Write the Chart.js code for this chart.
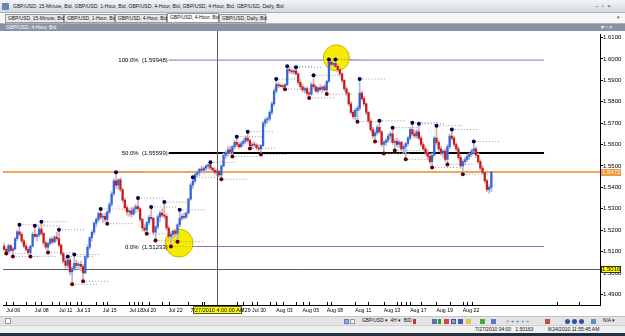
<!DOCTYPE html>
<html><head><meta charset="utf-8">
<script src="https://cdn.jsdelivr.net/npm/chart.js@4/dist/chart.umd.min.js"></script>
<style>
*{box-sizing:border-box}
body{margin:0;width:625px;height:336px;overflow:hidden;background:#fff;font-family:"Liberation Sans",Arial,sans-serif;position:relative}
.a{position:absolute;white-space:nowrap}
#title{left:0;top:0;width:625px;height:13px;background:linear-gradient(#f3f5f8,#d3d8e0);border-bottom:1px solid #aab1bc;font-size:5.1px;line-height:12px;color:#1a1a1a;padding-left:13px}
#tabs{left:0;top:13px;width:625px;height:11px;background:#f6f6f6;border-bottom:1px solid #b0b0b0}
.tab{position:absolute;top:1px;height:9px;border:1px solid #9a9a9a;background:#e9e9e9;font-size:4.9px;line-height:7px;padding-left:2px;white-space:nowrap;color:#111}
.tab.on{background:#fff;top:0;height:10px}
#inner{left:0;top:24px;width:625px;height:7px;background:#8a93a6;color:#fff;font-size:5px;line-height:7px;padding-left:6px}
canvas{position:absolute;left:0;top:31px}
#tool{left:0;top:316px;width:625px;height:9px;background:#e4e4e4;border-top:1px solid #c4c4c4;font-size:4.8px;line-height:8px;color:#111}
#status{left:0;top:325px;width:625px;height:8px;background:#f0f0f0;border-top:1px solid #d0d0d0;font-size:5px;line-height:7px;color:#111}
#task{left:0;top:333px;width:625px;height:3px;background:#26313f}
.ic{position:absolute;top:2px;width:5px;height:5px}
</style></head><body>
<div id="title" class="a"><span class="a" style="left:2px;top:3px;width:7px;height:7px;background:#6a86b8;border-radius:1px"></span>GBP/USD, 15-Minute, Bid, GBP/USD, 1-Hour, Bid, GBP/USD, 4-Hour, Bid, GBP/USD, 4-Hour, Bid, GBP/USD, Daily, Bid<span class="a" style="left:595px;top:0;font-size:6px;color:#555">–&nbsp;&nbsp;▫&nbsp;&nbsp;×</span></div>
<div id="tabs" class="a">
<div class="tab" style="left:5px;width:59px">GBP/USD, 15-Minute, Bid</div>
<div class="tab" style="left:64px;width:51px">GBP/USD, 1-Hour, Bid</div>
<div class="tab" style="left:115px;width:52px">GBP/USD, 4-Hour, Bid</div>
<div class="tab on" style="left:167px;width:52px">GBP/USD, 4-Hour, Bid</div>
<div class="tab" style="left:219px;width:47px">GBP/USD, Daily, Bid</div>
<span class="a" style="left:617px;top:1px;font-size:5px;color:#555">▾</span>
</div>
<div id="inner" class="a">GBP/USD, 4-Hour, Bid<span class="a" style="left:601px;top:0;font-size:5.5px">▾&nbsp;▫&nbsp;×</span></div>
<canvas id="c" width="625" height="285"></canvas>
<div id="tool" class="a">
<span class="a" style="left:5px;top:1px;width:6px;height:6px;border:1px solid #999;background:#fafafa"></span>
<span class="ic" style="left:344px;background:#8fb3e8;border:1px solid #5a7fc0"></span>
<span class="ic" style="left:350px;background:#f4f4f4;border:1px solid #999"></span>
<span class="a" style="left:362px;top:0">GBP/USD ▾&nbsp; 4H ▾&nbsp; BID ▾</span>
<span class="ic" style="left:413px;width:3px;background:#d03030"></span>
<span class="ic" style="left:432px;background:#5574a8"></span>
<span class="ic" style="left:438px;width:3px;background:#2f9a2f"></span>
<span class="ic" style="left:444px;background:#d04848"></span>
<span class="ic" style="left:451px;background:#7f9fd8;border:1px solid #3c5c9c"></span>
<span class="ic" style="left:458px;background:#3d5fa8"></span>
<span class="ic" style="left:466px;background:#e6c24a"></span>
<span class="ic" style="left:480px;background:#4aa84a"></span>
<span class="ic" style="left:491px;background:#5a7ac8"></span>
<span class="a" style="left:506px;top:0;color:#3a5bd0;font-size:6px">⌕ + + ÷ ÷</span>
<span class="ic" style="left:545px;background:#c05050"></span>
<span class="ic" style="left:565px;background:#3050b0;border-radius:50%"></span>
<span class="ic" style="left:572px;background:#3050b0;border-radius:50%"></span>
<span class="ic" style="left:579px;background:#3050b0;border-radius:50%"></span>
<span class="ic" style="left:591px;background:#6090d0"></span>
<span class="a" style="left:603px;top:0">N/A ▾</span>
</div>
<div id="status" class="a"><span class="a" style="left:475px">7/27/2010 04:00&nbsp;&nbsp; 1.50163</span><span class="a" style="left:548px">8/24/2010 11:55:45 AM</span></div>
<div id="task" class="a"></div>
<script>
// ---- data (4-hour candles, bar index 0 = Jul 06) ----
const opens = [
1.5125,1.5110,1.5100,1.5128,1.5105,1.5112,1.5160,1.5192,1.5180,1.5150,
1.5125,1.5110,1.5095,1.5125,1.5180,1.5170,1.5178,1.5205,1.5185,1.5140,
1.5120,1.5138,1.5158,1.5145,1.5168,1.5160,1.5130,1.5090,1.5055,1.5035,
1.5060,1.5005,1.5020,1.5045,1.5035,1.5040,1.5030,1.5000,1.5075,1.5120,
1.5165,1.5190,1.5232,1.5250,1.5278,1.5260,1.5265,1.5250,1.5285,1.5320,
1.5370,1.5430,1.5410,1.5435,1.5390,1.5340,1.5305,1.5285,1.5290,1.5275,
1.5300,1.5310,1.5300,1.5250,1.5210,1.5200,1.5235,1.5260,1.5255,1.5190,
1.5215,1.5262,1.5280,1.5270,1.5265,1.5210,1.5170,1.5180,1.5195,1.5185,
1.5225,1.5255,1.5265,1.5260,1.5280,1.5345,1.5410,1.5430,1.5460,1.5470,
1.5485,1.5480,1.5490,1.5500,1.5505,1.5490,1.5480,1.5470,1.5475,1.5458,
1.5500,1.5550,1.5560,1.5575,1.5565,1.5590,1.5610,1.5600,1.5590,1.5605,
1.5615,1.5630,1.5620,1.5595,1.5600,1.5598,1.5585,1.5580,1.5595,1.5700,
1.5715,1.5720,1.5750,1.5790,1.5850,1.5880,1.5875,1.5872,1.5870,1.5880,
1.5950,1.5945,1.5940,1.5945,1.5930,1.5890,1.5870,1.5855,1.5862,1.5840,
1.5835,1.5880,1.5870,1.5850,1.5865,1.5858,1.5870,1.5855,1.5895,1.5985,
1.5975,1.5980,1.5965,1.5950,1.5930,1.5900,1.5860,1.5840,1.5790,1.5750,
1.5730,1.5760,1.5770,1.5840,1.5815,1.5790,1.5750,1.5710,1.5670,1.5640,
1.5655,1.5680,1.5660,1.5600,1.5610,1.5620,1.5640,1.5650,1.5610,1.5615,
1.5600,1.5610,1.5580,1.5590,1.5605,1.5630,1.5670,1.5650,1.5640,1.5660,
1.5630,1.5600,1.5580,1.5560,1.5545,1.5520,1.5550,1.5630,1.5610,1.5580,
1.5560,1.5570,1.5530,1.5590,1.5640,1.5630,1.5600,1.5580,1.5540,1.5500,
1.5520,1.5530,1.5545,1.5555,1.5570,1.5580,1.5550,1.5520,1.5490,1.5470,
1.5430,1.5390,1.5400];
const highs = [
1.5140,1.5118,1.5135,1.5132,1.5120,1.5165,1.5200,1.5225,1.5190,1.5158,
1.5140,1.5120,1.5130,1.5190,1.5220,1.5185,1.5215,1.5239,1.5190,1.5150,
1.5145,1.5165,1.5170,1.5175,1.5190,1.5202,1.5135,1.5095,1.5070,1.5077,
1.5070,1.5030,1.5086,1.5060,1.5050,1.5055,1.5040,1.5080,1.5130,1.5170,
1.5200,1.5240,1.5260,1.5285,1.5299,1.5275,1.5280,1.5290,1.5330,1.5380,
1.5440,1.5470,1.5440,1.5445,1.5395,1.5350,1.5315,1.5300,1.5305,1.5310,
1.5320,1.5350,1.5305,1.5255,1.5225,1.5240,1.5270,1.5308,1.5260,1.5220,
1.5270,1.5290,1.5300,1.5331,1.5275,1.5220,1.5190,1.5200,1.5205,1.5230,
1.5295,1.5275,1.5280,1.5285,1.5350,1.5420,1.5447,1.5465,1.5480,1.5490,
1.5500,1.5495,1.5505,1.5510,1.5517,1.5495,1.5490,1.5485,1.5480,1.5505,
1.5560,1.5570,1.5590,1.5590,1.5595,1.5620,1.5637,1.5610,1.5615,1.5625,
1.5640,1.5660,1.5625,1.5610,1.5615,1.5605,1.5600,1.5600,1.5710,1.5725,
1.5730,1.5760,1.5800,1.5860,1.5906,1.5890,1.5885,1.5880,1.5885,1.5966,
1.5958,1.5955,1.5950,1.5961,1.5935,1.5900,1.5880,1.5870,1.5870,1.5850,
1.5890,1.5924,1.5878,1.5870,1.5880,1.5875,1.5880,1.5900,1.5998,1.5995,
1.5990,1.5998,1.5975,1.5960,1.5935,1.5905,1.5870,1.5845,1.5800,1.5760,
1.5770,1.5780,1.5906,1.5850,1.5825,1.5795,1.5755,1.5720,1.5680,1.5665,
1.5690,1.5711,1.5665,1.5620,1.5630,1.5650,1.5660,1.5679,1.5625,1.5630,
1.5620,1.5615,1.5600,1.5610,1.5640,1.5680,1.5702,1.5665,1.5670,1.5697,
1.5640,1.5610,1.5590,1.5575,1.5555,1.5560,1.5640,1.5688,1.5620,1.5590,
1.5575,1.5580,1.5600,1.5650,1.5670,1.5640,1.5610,1.5590,1.5550,1.5530,
1.5540,1.5555,1.5560,1.5580,1.5614,1.5590,1.5560,1.5530,1.5500,1.5475,
1.5440,1.5410,1.5475];
const lows = [
1.5105,1.5091,1.5095,1.5098,1.5077,1.5108,1.5150,1.5170,1.5140,1.5118,
1.5100,1.5085,1.5077,1.5120,1.5165,1.5150,1.5170,1.5175,1.5130,1.5110,
1.5095,1.5130,1.5135,1.5140,1.5150,1.5120,1.5080,1.5045,1.5020,1.5025,
1.4990,1.4947,1.5010,1.5025,1.5015,1.5010,1.4961,1.4995,1.5065,1.5110,
1.5150,1.5180,1.5215,1.5240,1.5250,1.5235,1.5240,1.5230,1.5275,1.5310,
1.5360,1.5395,1.5390,1.5380,1.5330,1.5295,1.5270,1.5265,1.5260,1.5270,
1.5280,1.5290,1.5240,1.5195,1.5190,1.5183,1.5225,1.5245,1.5180,1.5151,
1.5205,1.5240,1.5260,1.5255,1.5200,1.5160,1.5123,1.5160,1.5170,1.5146,
1.5215,1.5245,1.5250,1.5255,1.5275,1.5340,1.5395,1.5420,1.5450,1.5455,
1.5470,1.5465,1.5478,1.5485,1.5485,1.5470,1.5462,1.5455,1.5450,1.5438,
1.5495,1.5535,1.5545,1.5555,1.5544,1.5580,1.5590,1.5580,1.5585,1.5595,
1.5605,1.5610,1.5582,1.5580,1.5590,1.5575,1.5570,1.5554,1.5590,1.5685,
1.5700,1.5710,1.5740,1.5780,1.5840,1.5865,1.5868,1.5862,1.5859,1.5875,
1.5935,1.5930,1.5928,1.5925,1.5880,1.5860,1.5845,1.5840,1.5830,1.5818,
1.5830,1.5860,1.5845,1.5840,1.5850,1.5845,1.5848,1.5836,1.5890,1.5965,
1.5965,1.5960,1.5940,1.5920,1.5890,1.5850,1.5830,1.5780,1.5740,1.5720,
1.5715,1.5707,1.5760,1.5805,1.5780,1.5740,1.5700,1.5660,1.5630,1.5614,
1.5645,1.5650,1.5590,1.5558,1.5595,1.5610,1.5625,1.5600,1.5572,1.5590,
1.5585,1.5570,1.5560,1.5531,1.5595,1.5620,1.5640,1.5630,1.5630,1.5620,
1.5590,1.5570,1.5550,1.5530,1.5510,1.5493,1.5545,1.5600,1.5570,1.5550,
1.5540,1.5520,1.5507,1.5580,1.5620,1.5590,1.5570,1.5530,1.5490,1.5461,
1.5505,1.5520,1.5530,1.5545,1.5560,1.5540,1.5510,1.5480,1.5460,1.5420,
1.5380,1.5373,1.5380];
const closes = [
1.5110,1.5100,1.5128,1.5105,1.5112,1.5160,1.5192,1.5180,1.5150,1.5125,
1.5110,1.5095,1.5125,1.5180,1.5170,1.5178,1.5205,1.5185,1.5140,1.5120,
1.5138,1.5158,1.5145,1.5168,1.5160,1.5130,1.5090,1.5055,1.5035,1.5060,
1.5005,1.5020,1.5045,1.5035,1.5040,1.5030,1.5000,1.5075,1.5120,1.5165,
1.5190,1.5232,1.5250,1.5278,1.5260,1.5265,1.5250,1.5285,1.5320,1.5370,
1.5430,1.5410,1.5435,1.5390,1.5340,1.5305,1.5285,1.5290,1.5275,1.5300,
1.5310,1.5300,1.5250,1.5210,1.5200,1.5235,1.5260,1.5255,1.5190,1.5215,
1.5262,1.5280,1.5270,1.5265,1.5210,1.5170,1.5180,1.5195,1.5185,1.5225,
1.5255,1.5265,1.5260,1.5280,1.5345,1.5410,1.5430,1.5460,1.5470,1.5485,
1.5480,1.5490,1.5500,1.5505,1.5490,1.5480,1.5470,1.5475,1.5458,1.5500,
1.5550,1.5560,1.5575,1.5565,1.5590,1.5610,1.5600,1.5590,1.5605,1.5615,
1.5630,1.5620,1.5595,1.5600,1.5598,1.5585,1.5580,1.5595,1.5700,1.5715,
1.5720,1.5750,1.5790,1.5850,1.5880,1.5875,1.5872,1.5870,1.5880,1.5950,
1.5945,1.5940,1.5945,1.5930,1.5890,1.5870,1.5855,1.5862,1.5840,1.5835,
1.5880,1.5870,1.5850,1.5865,1.5858,1.5870,1.5855,1.5895,1.5985,1.5975,
1.5980,1.5965,1.5950,1.5930,1.5900,1.5860,1.5840,1.5790,1.5750,1.5730,
1.5760,1.5770,1.5840,1.5815,1.5790,1.5750,1.5710,1.5670,1.5640,1.5655,
1.5680,1.5660,1.5600,1.5610,1.5620,1.5640,1.5650,1.5610,1.5615,1.5600,
1.5610,1.5580,1.5590,1.5605,1.5630,1.5670,1.5650,1.5640,1.5660,1.5630,
1.5600,1.5580,1.5560,1.5545,1.5520,1.5550,1.5630,1.5610,1.5580,1.5560,
1.5570,1.5530,1.5590,1.5640,1.5630,1.5600,1.5580,1.5540,1.5500,1.5520,
1.5530,1.5545,1.5555,1.5570,1.5580,1.5550,1.5520,1.5490,1.5470,1.5430,
1.5390,1.5400,1.5472];
const fractalHighIdx = [7,14,17,25,29,32,44,51,61,67,73,80,86,94,106,111,124,129,133,141,148,151,162,171,177,186,189,197,204,214];
const fractalLowIdx = [1,4,12,20,31,36,47,65,69,76,79,99,104,112,117,128,139,147,161,169,173,178,183,195,202,209];
const fibLevels = [1.59948, 1.55599, 1.51233];
const fibNames = ['100.0%', '50.0%', '0.0%'];
const fibFromIdx = 75, fibToIdx = 246;
const bidPrice = 1.5472;
const crossPrice = 1.50163;
const crossIdx = 97;
const crossLabel = '7/27/2010 4:00:00 AM';
const circleIdx = [151.4, 79.7];
const circlePrice = [1.60051, 1.51394];
const xTickIdx = [1,14,25,33,45,57,63,75,106,113,124,136,147,160,173,185,197,209];
const xTickText = ['Jul 06','Jul 08','Jul 11','Jul 13','Jul 15','Jul 18','Jul 20','Jul 22','Jul 29','Jul 30','Aug 03','Aug 05','Aug 08','Aug 11','Aug 13','Aug 17','Aug 19','Aug 22'];
const minorTickIdx = [4,10,17,22,28,30,35,42,47,59,61,66,72,84,90,91,109,115,121,127,133,139,149,166,179,181,183,190,203,211,213,252,262];
const yTickValues = [1.49,1.50,1.51,1.52,1.53,1.54,1.55,1.56,1.57,1.58,1.59,1.60,1.61];
const slotCount = 272;

// ---- styling ----
const BULL = '#3464d8', BEAR = '#c41c1c', BULLW = '#a7badf', BEARW = '#e2a8a8';
const FONT = '"Liberation Sans", Arial, sans-serif';
const isBull = closes.map((c, i) => c >= opens[i]);

const dotted = (idxs, src) => idxs.flatMap(i => [{x: i, y: src[i]}, {x: i + 12, y: src[i]}, {x: i + 12, y: null}]);

const overlay = {
  id: 'overlay',
  beforeDraw(chart) {
    const {ctx, width, height} = chart;
    ctx.save(); ctx.fillStyle = '#fff'; ctx.fillRect(0, 0, width, height); ctx.restore();
  },
  beforeDatasetsDraw(chart) {
    const {ctx, chartArea: a, scales: {y}} = chart;
    ctx.save();
    const yb = Math.round(y.getPixelForValue(bidPrice));
    ctx.strokeStyle = '#f2a55a'; ctx.lineWidth = 2;
    ctx.beginPath(); ctx.moveTo(a.left, yb); ctx.lineTo(a.right, yb); ctx.stroke();
    const yc = Math.round(y.getPixelForValue(crossPrice)) + 0.5;
    ctx.strokeStyle = '#5c5c5c'; ctx.lineWidth = 1;
    ctx.beginPath(); ctx.moveTo(a.left, yc); ctx.lineTo(a.right, yc); ctx.stroke();
    ctx.restore();
  },
  afterDatasetsDraw(chart) {
    const {ctx, chartArea: a, scales: {x, y}} = chart;
    ctx.save();
    const xc = Math.round(x.getPixelForValue(crossIdx)) + 0.5;
    ctx.strokeStyle = '#5c5c5c'; ctx.lineWidth = 1;
    ctx.beginPath(); ctx.moveTo(xc, 0); ctx.lineTo(xc, a.bottom); ctx.stroke();
    ctx.font = '6px ' + FONT; ctx.fillStyle = '#000'; ctx.textAlign = 'right'; ctx.textBaseline = 'middle';
    const lx = x.getPixelForValue(fibFromIdx) - 1;
    fibLevels.forEach((lv, k) => ctx.fillText(fibNames[k] + '  (' + lv.toFixed(5) + ')', lx, y.getPixelForValue(lv) + 0.5));
    ctx.restore();
  },
  afterDraw(chart) {
    const {ctx, chartArea: a, scales: {x, y}} = chart;
    ctx.save();
    ctx.strokeStyle = '#000'; ctx.lineWidth = 1;
    xTickIdx.concat(minorTickIdx).forEach(i => {
      const px = Math.round(x.getPixelForValue(i)) + 0.5;
      ctx.beginPath(); ctx.moveTo(px, a.bottom - 3); ctx.lineTo(px, a.bottom); ctx.stroke();
    });
    ctx.font = '6px ' + FONT; ctx.textBaseline = 'middle'; ctx.textAlign = 'left';
    const yb = Math.round(y.getPixelForValue(bidPrice));
    ctx.fillStyle = '#f09a40'; ctx.fillRect(a.right + 1, yb - 3, 20, 7);
    ctx.fillStyle = '#fff8e8'; ctx.fillText(bidPrice.toFixed(4), a.right + 2, yb + 0.5);
    const yc = Math.round(y.getPixelForValue(crossPrice));
    ctx.fillStyle = '#ffff00'; ctx.fillRect(a.right + 1, yc - 3, 20, 7);
    ctx.strokeStyle = '#333'; ctx.strokeRect(a.right + 1.5, yc - 2.5, 19, 6);
    ctx.fillStyle = '#000'; ctx.fillText(crossPrice.toFixed(4), a.right + 2, yc + 0.5);
    const xc = Math.round(x.getPixelForValue(crossIdx));
    ctx.font = '5.5px ' + FONT;
    ctx.fillStyle = '#ffff00'; ctx.fillRect(xc - 24, a.bottom + 1, 49, 8);
    ctx.strokeStyle = '#555'; ctx.strokeRect(xc - 23.5, a.bottom + 1.5, 48, 7);
    ctx.fillStyle = '#000'; ctx.textAlign = 'center'; ctx.fillText(crossLabel, xc + 0.5, a.bottom + 5.5);
    ctx.restore();
  }
};

new Chart(document.getElementById('c'), {
  type: 'bar',
  data: {
    datasets: [
      ...fibLevels.map((lv, k) => ({
        type: 'line', order: 20,
        data: [{x: fibFromIdx, y: lv}, {x: fibToIdx, y: lv}],
        borderColor: k === 1 ? '#000' : '#8d6fae', borderWidth: k === 1 ? 2 : 1,
        pointRadius: 0
      })),
      {
        type: 'line', order: 15, showLine: false,
        data: circleIdx.map((v, k) => ({x: v, y: circlePrice[k]})),
        pointRadius: [13, 14], pointBackgroundColor: '#f7ec00', pointBorderColor: '#cbb800', pointBorderWidth: 1
      },
      {
        type: 'line', order: 10, spanGaps: false,
        data: dotted(fractalHighIdx, highs).concat(dotted(fractalLowIdx, lows)),
        borderColor: '#9a9a9a', borderWidth: 1, borderDash: [1, 2], pointRadius: 0
      },
      {
        type: 'bar', order: 6, grouped: false, barThickness: 1,
        data: lows.map((l, i) => ({x: i, y: [l, highs[i]]})),
        backgroundColor: isBull.map(b => b ? BULLW : BEARW), borderWidth: 0
      },
      {
        type: 'bar', order: 5, grouped: false, barThickness: 1.6, minBarLength: 1,
        data: opens.map((o, i) => ({x: i, y: [o, closes[i]]})),
        backgroundColor: isBull.map(b => b ? BULL : BEAR), borderWidth: 0
      },
      {
        type: 'line', order: 1, showLine: false,
        data: fractalHighIdx.map(i => ({x: i, y: highs[i]})),
        pointRadius: 2, pointBackgroundColor: '#00004e', pointBorderWidth: 0
      },
      {
        type: 'line', order: 1, showLine: false,
        data: fractalLowIdx.map(i => ({x: i, y: lows[i]})),
        pointRadius: 2, pointBackgroundColor: '#5c0000', pointBorderWidth: 0
      }
    ]
  },
  options: {
    responsive: false, maintainAspectRatio: false, devicePixelRatio: 1, animation: false, events: [],
    layout: {autoPadding: false, padding: {left: 3, right: 0, top: 1, bottom: 0}},
    plugins: {legend: {display: false}, tooltip: {enabled: false}},
    scales: {
      x: {
        type: 'linear', offset: false, min: -0.5, max: slotCount - 0.5,
        afterFit: s => { s.height = 11; },
        afterBuildTicks: s => { s.ticks = xTickIdx.map(v => ({value: v})); },
        grid: {display: false, drawTicks: false, tickLength: 0},
        border: {display: true, color: '#000', width: 1},
        ticks: {
          autoSkip: false, maxRotation: 0, align: 'start', padding: 2, color: '#000',
          font: {family: FONT, size: 5.2},
          callback: v => { const k = xTickIdx.indexOf(v); return k >= 0 ? xTickText[k] : ''; }
        }
      },
      y: {
        type: 'linear', position: 'right', min: 1.485, max: 1.611389,
        afterFit: s => { s.width = 25; },
        afterBuildTicks: s => { s.ticks = yTickValues.map(v => ({value: v})); },
        grid: {drawOnChartArea: false, tickLength: 3, color: '#000'},
        border: {display: true, color: '#000', width: 1},
        ticks: {autoSkip: false, padding: 0, color: '#000', font: {family: FONT, size: 6}, callback: v => v.toFixed(4)}
      }
    }
  },
  plugins: [overlay]
});
</script>
</body></html>
